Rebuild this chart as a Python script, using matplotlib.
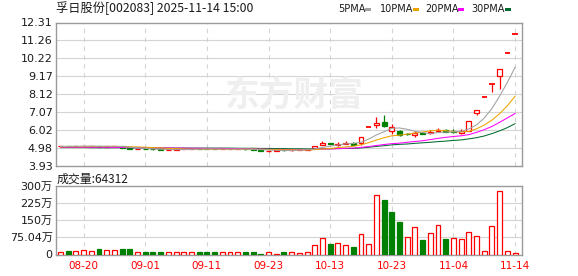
import numpy as np
import matplotlib
matplotlib.use('Agg')
import matplotlib.pyplot as plt
from matplotlib.patches import Rectangle

plt.rcParams['font.family'] = ['DejaVu Sans', 'Noto Sans CJK SC']

# ---------------- data ----------------
dates = ["08-15", "08-18", "08-19", "08-20", "08-21", "08-22", "08-25", "08-26", "08-27", "08-28",
         "08-29", "09-01", "09-02", "09-03", "09-04", "09-05", "09-08", "09-09", "09-10", "09-11",
         "09-12", "09-15", "09-16", "09-17", "09-18", "09-19", "09-22", "09-23", "09-24", "09-25",
         "09-26", "09-29", "09-30", "10-09", "10-10", "10-13", "10-14", "10-15", "10-16", "10-17",
         "10-20", "10-21", "10-22", "10-23", "10-24", "10-27", "10-28", "10-29", "10-30", "10-31",
         "11-03", "11-04", "11-05", "11-06", "11-07", "11-10", "11-11", "11-12", "11-13", "11-14"]
tick_dates = ["08-20", "09-01", "09-11", "09-23", "10-13", "10-23", "11-04", "11-14"]

opens = [5.05, 5.07, 5.05, 5.06, 5.06, 5.07, 5.04, 5.05, 5.08, 4.96,
         4.89, 4.91, 4.90, 4.87, 4.82, 4.86, 4.88, 4.90, 4.92, 4.90,
         4.89, 4.88, 4.89, 4.90, 4.91, 4.87, 4.82, 4.78, 4.80, 4.83,
         4.81, 4.84, 4.86, 4.93, 5.15, 5.22, 5.14, 5.20, 5.27, 5.24,
         6.16, 6.29, 6.48, 5.96, 5.96, 5.80, 5.72, 5.83, 5.82, 5.97,
         6.02, 5.95, 5.82, 5.98, 7.00, 7.93, 8.72, 9.15, 10.55, 11.61]
highs = [5.08, 5.08, 5.08, 5.08, 5.09, 5.08, 5.06, 5.07, 5.09, 4.98,
         4.92, 4.92, 4.93, 4.88, 4.85, 4.89, 4.91, 4.92, 4.93, 4.91,
         4.90, 4.90, 4.91, 4.92, 4.92, 4.88, 4.83, 4.82, 4.83, 4.84,
         4.85, 4.87, 4.91, 5.10, 5.36, 5.24, 5.28, 5.36, 5.30, 5.60,
         6.16, 6.78, 6.91, 6.37, 6.00, 5.84, 5.95, 5.86, 6.02, 6.12,
         6.05, 6.04, 6.07, 6.55, 7.21, 7.93, 8.72, 9.59, 10.55, 11.61]
lows = [5.04, 5.04, 5.04, 5.05, 5.05, 5.03, 5.03, 5.04, 4.94, 4.88,
        4.88, 4.88, 4.84, 4.82, 4.81, 4.85, 4.87, 4.89, 4.89, 4.88,
        4.87, 4.87, 4.88, 4.89, 4.86, 4.83, 4.77, 4.73, 4.79, 4.80,
        4.80, 4.83, 4.85, 4.92, 5.12, 5.17, 5.10, 5.19, 5.14, 5.14,
        6.16, 6.15, 6.20, 5.76, 5.68, 5.72, 5.58, 5.78, 5.80, 5.95,
        5.88, 5.85, 5.76, 5.95, 6.90, 7.93, 8.22, 8.42, 10.55, 11.61]
closes = [5.07, 5.05, 5.07, 5.07, 5.08, 5.04, 5.05, 5.06, 4.95, 4.90,
          4.91, 4.89, 4.88, 4.83, 4.84, 4.88, 4.90, 4.91, 4.90, 4.89,
          4.88, 4.89, 4.90, 4.91, 4.87, 4.84, 4.79, 4.80, 4.82, 4.81,
          4.84, 4.86, 4.90, 5.09, 5.25, 5.20, 5.21, 5.27, 5.16, 5.60,
          6.16, 6.41, 6.22, 6.18, 5.70, 5.76, 5.86, 5.80, 5.87, 6.02,
          5.90, 5.92, 5.95, 6.55, 7.21, 7.93, 8.72, 9.59, 10.55, 11.61]
prev_close = 5.05

ma5 = [5.05, 5.05, 5.06, 5.06, 5.07, 5.06, 5.06, 5.06, 5.04, 5.00,
       4.97, 4.94, 4.90, 4.88, 4.87, 4.86, 4.87, 4.87, 4.89, 4.90,
       4.90, 4.89, 4.89, 4.89, 4.89, 4.88, 4.86, 4.84, 4.82, 4.81,
       4.81, 4.83, 4.85, 4.90, 4.99, 5.06, 5.13, 5.20, 5.22, 5.29,
       5.48, 5.72, 5.91, 6.11, 6.13, 6.05, 5.94, 5.86, 5.80, 5.86,
       5.89, 5.90, 5.93, 6.07, 6.31, 6.71, 7.27, 8.00, 8.80, 9.68]
ma10 = [5.02, 5.03, 5.03, 5.03, 5.04, 5.04, 5.04, 5.04, 5.04, 5.03,
        5.02, 5.00, 4.98, 4.96, 4.93, 4.92, 4.90, 4.89, 4.88, 4.88,
        4.88, 4.88, 4.88, 4.88, 4.89, 4.89, 4.88, 4.87, 4.86, 4.85,
        4.85, 4.84, 4.84, 4.86, 4.90, 4.92, 4.98, 5.02, 5.06, 5.14,
        5.27, 5.42, 5.56, 5.67, 5.71, 5.77, 5.83, 5.89, 5.96, 6.00,
        5.97, 5.92, 5.90, 5.93, 6.08, 6.30, 6.59, 6.97, 7.43, 7.99]
ma20 = [5.00, 5.00, 5.00, 5.00, 5.00, 5.00, 5.00, 4.99, 4.99, 4.98,
        4.98, 4.97, 4.97, 4.96, 4.96, 4.95, 4.95, 4.94, 4.94, 4.93,
        4.93, 4.93, 4.92, 4.92, 4.91, 4.90, 4.89, 4.88, 4.87, 4.87,
        4.86, 4.86, 4.86, 4.88, 4.89, 4.90, 4.92, 4.94, 4.95, 4.99,
        5.04, 5.10, 5.16, 5.21, 5.24, 5.29, 5.34, 5.38, 5.45, 5.52,
        5.58, 5.63, 5.67, 5.74, 5.87, 6.03, 6.22, 6.46, 6.72, 6.98]
ma30 = [4.98, 4.98, 4.98, 4.98, 4.97, 4.97, 4.97, 4.97, 4.97, 4.96,
        4.96, 4.96, 4.96, 4.95, 4.95, 4.95, 4.95, 4.95, 4.95, 4.95,
        4.95, 4.95, 4.95, 4.94, 4.94, 4.94, 4.93, 4.93, 4.92, 4.92,
        4.91, 4.91, 4.90, 4.90, 4.91, 4.91, 4.92, 4.93, 4.93, 4.96,
        5.00, 5.05, 5.09, 5.14, 5.17, 5.19, 5.23, 5.26, 5.29, 5.33,
        5.36, 5.40, 5.43, 5.49, 5.56, 5.66, 5.80, 5.96, 6.15, 6.38]

# volume in lots (手)
volume = [120000, 170000, 160000, 200000, 160000, 260000, 200000, 200000, 260000, 220000,
          130000, 130000, 130000, 90000, 90000, 90000, 90000, 90000, 90000, 90000,
          90000, 90000, 90000, 90000, 130000, 90000, 40000, 130000, 40000, 90000,
          100000, 70000, 110000, 430000, 740000, 480000, 510000, 420000, 320000, 900000,
          460000, 2600000, 2390000, 1870000, 1440000, 780000, 1200000, 650000, 940000, 1290000,
          700000, 740000, 680000, 990000, 810000, 160000, 1250000, 2780000, 160000, 64312]

price_ticks = [3.93, 4.98, 6.02, 7.07, 8.12, 9.17, 10.22, 11.26, 12.31]
vol_ticks = [0, 750400, 1500000, 2250000, 3000000]
vol_tick_labels = ["0", "75.04万", "150万", "225万", "300万"]

title = "孚日股份[002083] 2025-11-14 15:00"
vol_title = "成交量:64312"
legend_names = ["5PMA", "10PMA", "20PMA", "30PMA"]

# ---------------- style ----------------
RED = '#ff0000'
GREEN = '#008000'
MA_COLORS = ['#a0a0a0', '#f0a000', '#ff00ff', '#006b30']
GRID = '#d4d4d4'
BORDER = '#9a9a9a'
TXT = '#1a1a1a'

W, H = 578, 276
fig = plt.figure(figsize=(W / 100, H / 100), dpi=100)


def rect(x0, y0, x1, y1):
    return [x0 / W, 1 - y1 / H, (x1 - x0) / W, (y1 - y0) / H]


ax = fig.add_axes(rect(55.5, 22.5, 522, 165.5))
axv = fig.add_axes(rect(55.5, 186, 522, 254.5))

n = len(closes)
xs = np.arange(n)
tick_idx = [dates.index(d) for d in tick_dates]

for a in (ax, axv):
    a.set_xlim(-0.65, 59.9)
    for s in a.spines.values():
        s.set_color(BORDER)
        s.set_linewidth(1.0)
    a.tick_params(length=0, labelsize=8, colors=TXT, pad=2)
    for t in tick_idx:
        a.axvline(t, color=GRID, lw=0.8, ls=(0, (4, 4)), zorder=0)

# watermark
fig.text(0.51, 1 - 95 / H, "东方财富", fontsize=25, color='#efefef', weight='bold',
         ha='center', va='center', family=['Noto Sans CJK SC'], zorder=0)

# price panel
ax.set_ylim(price_ticks[0], price_ticks[-1])
ax.set_yticks(price_ticks)
ax.set_yticklabels([f"{v:.2f}" for v in price_ticks])
ax.set_xticks([])
for v in price_ticks[1:-1]:
    ax.axhline(v, color=GRID, lw=0.8, zorder=0)

bw = 0.64
for i in xs:
    o, h, l, c = opens[i], highs[i], lows[i], closes[i]
    col = RED if c >= o else GREEN
    ax.vlines(i, l, h, color=col, lw=0.9, zorder=3)
    if abs(c - o) < 1e-9:
        ax.hlines(c, i - 0.34, i + 0.34, color=col, lw=1.3, zorder=4)
    else:
        ax.add_patch(Rectangle((i - bw / 2, min(o, c)), bw, abs(c - o),
                               facecolor='white' if c > o else GREEN,
                               edgecolor=col, lw=0.9, zorder=4))

for ma, col in zip([ma30, ma20, ma10, ma5], MA_COLORS[::-1]):
    ax.plot(xs, ma, color=col, lw=0.75, zorder=5)

# volume panel
axv.set_ylim(0, vol_ticks[-1])
axv.set_yticks(vol_ticks)
axv.set_yticklabels(vol_tick_labels)
for v in vol_ticks[1:-1]:
    axv.axhline(v, color=GRID, lw=0.8, zorder=0)
prev = [prev_close] + closes[:-1]
for i in xs:
    upv = closes[i] >= prev[i]
    if upv:
        axv.bar(i, volume[i], width=bw, facecolor='white', edgecolor=RED, lw=0.9, zorder=3)
    else:
        axv.bar(i, volume[i], width=bw, facecolor=GREEN, edgecolor=GREEN, lw=0.9, zorder=3)
axv.set_xticks(tick_idx)
axv.set_xticklabels(tick_dates, fontsize=7.5)
for lab in axv.get_xticklabels():
    lab.set_color(RED)
axv.tick_params(axis='x', pad=5)

# header texts
fig.text(56 / W, 1 - 8.5 / H, title, fontsize=8.8, color=TXT, ha='left', va='center',
         family=['Noto Sans CJK SC', 'DejaVu Sans'])
fig.text(57 / W, 1 - 179 / H, vol_title, fontsize=8.6, color=TXT, ha='left', va='center',
         family=['Noto Sans CJK SC', 'DejaVu Sans'])

leg_x = [338, 380, 425, 471]
mark_x = [365, 413, 458, 505]
for name, lx, mx, col in zip(legend_names, leg_x, mark_x, MA_COLORS):
    fig.text(lx / W, 1 - 8.5 / H, name, fontsize=7, color=TXT, ha='left', va='center')
    fig.patches.append(Rectangle((mx / W, 1 - 10.5 / H), 5.5 / W, 2.5 / H,
                                 transform=fig.transFigure, facecolor=col,
                                 edgecolor='none', figure=fig))

fig.savefig('out.png', dpi=100)
